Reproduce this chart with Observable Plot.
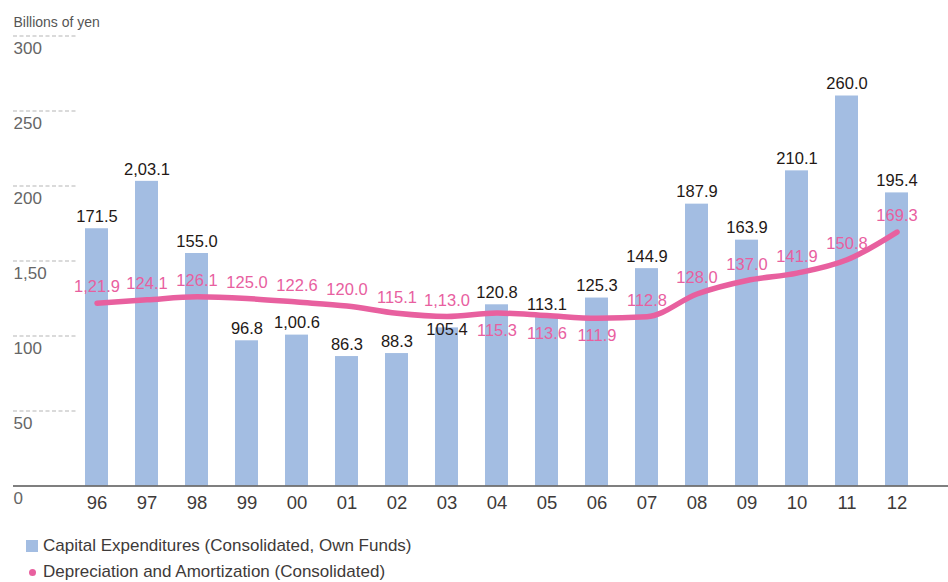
<!DOCTYPE html>
<html>
<head>
<meta charset="utf-8">
<script src="https://cdn.jsdelivr.net/npm/d3@7"></script>
<script src="https://cdn.jsdelivr.net/npm/@observablehq/plot@0.6"></script>
<style>
  html, body { margin: 0; padding: 0; background: #fff; }
  body { font-family: "Liberation Sans", Arial, sans-serif; width: 948px; height: 582px; position: relative; overflow: hidden; }
  #chart svg { display: block; }
  .legend { position: absolute; left: 26px; font-size: 17px; color: #3e3a39; display: flex; align-items: center; white-space: nowrap; }
  .legend .sw { width: 12px; height: 12px; background: #a3bde2; margin-right: 5px; }
  .legend .dot { width: 7px; height: 7px; border-radius: 50%; background: #e8609f; margin: 0 7px 0 3px; }
</style>
</head>
<body>
<div id="chart"></div>
<div class="legend" style="top:536px"><span class="sw"></span>Capital Expenditures (Consolidated, Own Funds)</div>
<div class="legend" style="top:562px"><span class="dot"></span>Depreciation and Amortization (Consolidated)</div>
<script>
const years = ["96","97","98","99","00","01","02","03","04","05","06","07","08","09","10","11","12"];
const capex = [171.5, 203.1, 155.0, 96.8, 100.6, 86.3, 88.3, 105.4, 120.8, 113.1, 125.3, 144.9, 187.9, 163.9, 210.1, 260.0, 195.4];
const capexLabels = ["171.5","2,03.1","155.0","96.8","1,00.6","86.3","88.3","105.4","120.8","113.1","125.3","144.9","187.9","163.9","210.1","260.0","195.4"];
const capexLabelSide = ["above","above","above","above","above","above","above","top","above","above","above","above","above","above","above","above","above"];
const depr = [121.9, 124.1, 126.1, 125.0, 122.6, 120.0, 115.1, 113.0, 115.3, 113.6, 111.9, 112.8, 128.0, 137.0, 141.9, 150.8, 169.3];
const deprLabels = ["1,21.9","124.1","126.1","125.0","122.6","120.0","115.1","1,13.0","115.3","113.6","111.9","112.8","128.0","137.0","141.9","150.8","169.3"];
const deprLabelSide = ["above","above","above","above","above","above","above","above","below","below","below","above","above","above","above","above","above"];
const yTicks = [0, 50, 100, 150, 200, 250, 300];
const yTickLabels = ["0","50","100","1,50","200","250","300"];
const yUnit = "Billions of yen";

const rows = years.map((y, i) => ({
  year: y, capex: capex[i], capexLabel: capexLabels[i], capexSide: capexLabelSide[i],
  depr: depr[i], deprLabel: deprLabels[i], side: deprLabelSide[i]
}));
const ticks = yTicks.map((v, i) => ({v, label: yTickLabels[i]}));

const pink = "#e8609f";
const font = "Liberation Sans, Arial, sans-serif";

const chart = Plot.plot({
  width: 948,
  height: 530,
  marginLeft: 13,
  marginRight: 0,
  marginTop: 0,
  marginBottom: 0,
  style: {fontFamily: font, background: "white"},
  x: {domain: years, range: [71.5, 921.5], paddingInner: 0.54, paddingOuter: 0.27, axis: null},
  y: {domain: [0, 300], range: [485.5, 35.5], axis: null},
  marks: [
    Plot.ruleY(yTicks.filter(v => v > 0), {stroke: "#b5b5b5", strokeWidth: 1, strokeDasharray: "4,2.5", insetRight: 871}),
    Plot.text(ticks, {y: "v", text: "label", frameAnchor: "left", textAnchor: "start", dy: 13, fontSize: 17, fill: "#666"}),
    Plot.text([yUnit], {frameAnchor: "top-left", textAnchor: "start", dy: 17, fontSize: 14, fill: "#555", text: d => d}),
    Plot.barY(rows, {x: "year", y: "capex", fill: "#a3bde2"}),
    Plot.ruleY([0], {stroke: "#555", strokeWidth: 1.5}),
    Plot.text(rows, {x: "year", y: 0, text: "year", dy: 17.5, fontSize: 18.5, fill: "#3e3a39"}),
    Plot.line(rows, {x: "year", y: "depr", stroke: pink, strokeWidth: 5.5, curve: "monotone-x", strokeLinecap: "round", strokeLinejoin: "round"}),
    Plot.text(rows.filter(d => d.capexSide === "above"), {x: "year", y: "capex", text: "capexLabel", dy: -12, fontSize: 16.5, fill: "#231815"}),
    Plot.text(rows.filter(d => d.capexSide === "top"), {x: "year", y: "capex", text: "capexLabel", dy: 2, fontSize: 16.5, fill: "#231815"}),
    Plot.text(rows.filter(d => d.side === "above"), {x: "year", y: "depr", text: "deprLabel", dy: -16, fontSize: 16.5, fill: pink}),
    Plot.text(rows.filter(d => d.side === "below"), {x: "year", y: "depr", text: "deprLabel", dy: 18, fontSize: 16.5, fill: pink})
  ]
});
document.getElementById("chart").appendChild(chart);
</script>
</body>
</html>
